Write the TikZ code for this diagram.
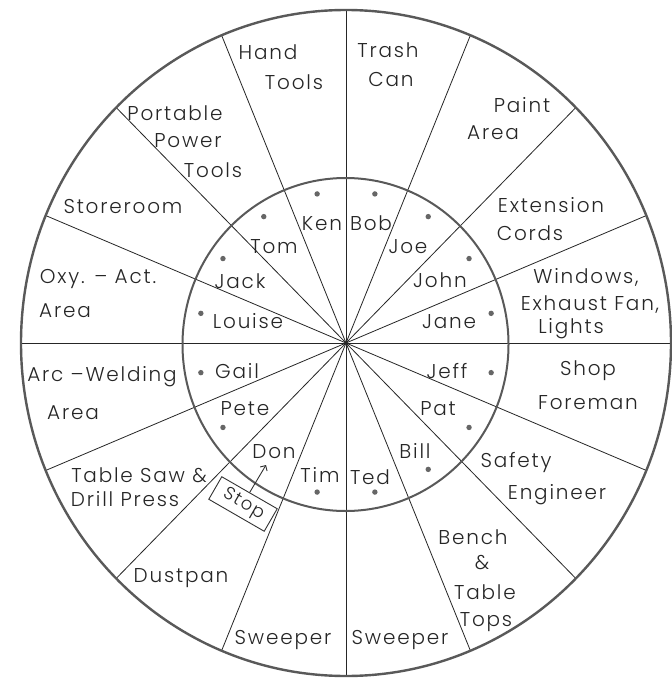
\documentclass[tikz,border=0pt]{standalone}
\usepackage{fontspec}
\IfFontExistsTF{Poppins Light}
  {\newfontfamily\lett{Poppins Light}[LetterSpace=9]}
  {\newfontfamily\lett{Poppins}[LetterSpace=9]}
\usetikzlibrary{arrows.meta}
\begin{document}
\begin{tikzpicture}[x=1pt,y=-1pt,
  lbl/.style={anchor=base,inner sep=0pt,text=black!85,font=\lett\fontsize{20}{24}\selectfont},
  ring/.style={draw=black!65,line width=2.4pt},
  spoke/.style={draw=black!85,line width=0.8pt},
  dotmark/.style={fill=black!60,draw=none}]
\useasboundingbox (0,0) rectangle (671,679);
\fill[white] (0,0) rectangle (671,679);
\coordinate (C) at (346,343);
% spokes
\begin{scope}[shift={(C)}]
\foreach \a in {0,22.5,...,337.5}
  \draw[spoke] (0,0) -- (\a:325 and 333);
\foreach \a in {11.25,33.75,56.25,78.75,101.25,146.25,168.75,191.25,213.75,236.25,258.75,281.25,303.75,326.25,348.75}
  \fill[dotmark] (\a:148 and 152) circle[radius=2.7pt];
\end{scope}
% rings
\draw[ring] (C) ellipse[x radius=325pt,y radius=333pt];
\draw[ring,line width=2pt] (345.5,344.5) ellipse[x radius=163pt,y radius=166.5pt];
% outer labels
\node[lbl] (hand) at (268,60) {Hand};
\node[lbl] (handb) at (294,90) {Tools};
\node[lbl] (trash) at (388,58) {Trash};
\node[lbl] (trashb) at (391,87) {Can};
\node[lbl] (paint) at (522,113) {Paint};
\node[lbl] (paintb) at (493,140) {Area};
\node[lbl] (ext) at (551,212) {Extension};
\node[lbl] (extb) at (530,240) {Cords};
\node[lbl] (win) at (586,283) {Windows,};
\node[lbl] (winb) at (590,310) {Exhaust Fan,};
\node[lbl] (winc) at (571,333) {Lights};
\node[lbl] (shop) at (588,375) {Shop};
\node[lbl] (shopb) at (588,409) {Foreman};
\node[lbl] (saf) at (516,467) {Safety};
\node[lbl] (safb) at (557,499) {Engineer};
\node[lbl] (bench) at (473,544) {Bench};
\node[lbl] (benchb) at (482,569) {\&};
\node[lbl] (benchc) at (485,599) {Table};
\node[lbl] (benchd) at (486,626) {Tops};
\node[lbl] (swr) at (400,644) {Sweeper};
\node[lbl] (swl) at (283,644) {Sweeper};
\node[lbl] (dust) at (181,582) {Dustpan};
\node[lbl] (saw) at (139,482) {Table Saw \&};
\node[lbl] (sawb) at (125,506) {Drill Press};
\node[lbl] (arc) at (102,381) {Arc –Welding};
\node[lbl] (arcb) at (73,419) {Area};
\node[lbl] (oxy) at (98,283) {Oxy. – Act.};
\node[lbl] (oxyb) at (65,317) {Area};
\node[lbl] (store) at (123,213) {Storeroom};
\node[lbl] (port) at (175,121) {Portable};
\node[lbl] (portb) at (188,148) {Power};
\node[lbl] (portc) at (213,177) {Tools};
% names
\node[lbl] (ken) at (322,230) {Ken};
\node[lbl] (bob) at (371,230) {Bob};
\node[lbl] (joe) at (408,253) {Joe};
\node[lbl] (john) at (440,287) {John};
\node[lbl] (jane) at (449,328) {Jane};
\node[lbl] (jeff) at (447,378) {Jeff};
\node[lbl] (pat) at (438,415) {Pat};
\node[lbl] (bill) at (415,458) {Bill};
\node[lbl] (ted) at (370,484) {Ted};
\node[lbl] (tim) at (320,482) {Tim};
\node[lbl] (don) at (274,458) {Don};
\node[lbl] (pete) at (245,415) {Pete};
\node[lbl] (gail) at (237,378) {Gail};
\node[lbl] (louise) at (248,328) {Louise};
\node[lbl] (jack) at (240,288) {Jack};
\node[lbl] (tom) at (274,253) {Tom};
% stop box
\node[lbl,anchor=center,font=\lett\fontsize{18}{22}\selectfont,draw=black!80,line width=0.9pt,rotate=-30,minimum width=64pt,minimum height=26pt,inner xsep=3pt] (stop) at (243,504) {\hspace{1.6pt}Stop};
\coordinate (dondot) at (266,465);
\draw[black!80,line width=0.9pt,-{Straight Barb[length=4pt]}] (stop.north) -- (dondot);
\end{tikzpicture}
\end{document}
